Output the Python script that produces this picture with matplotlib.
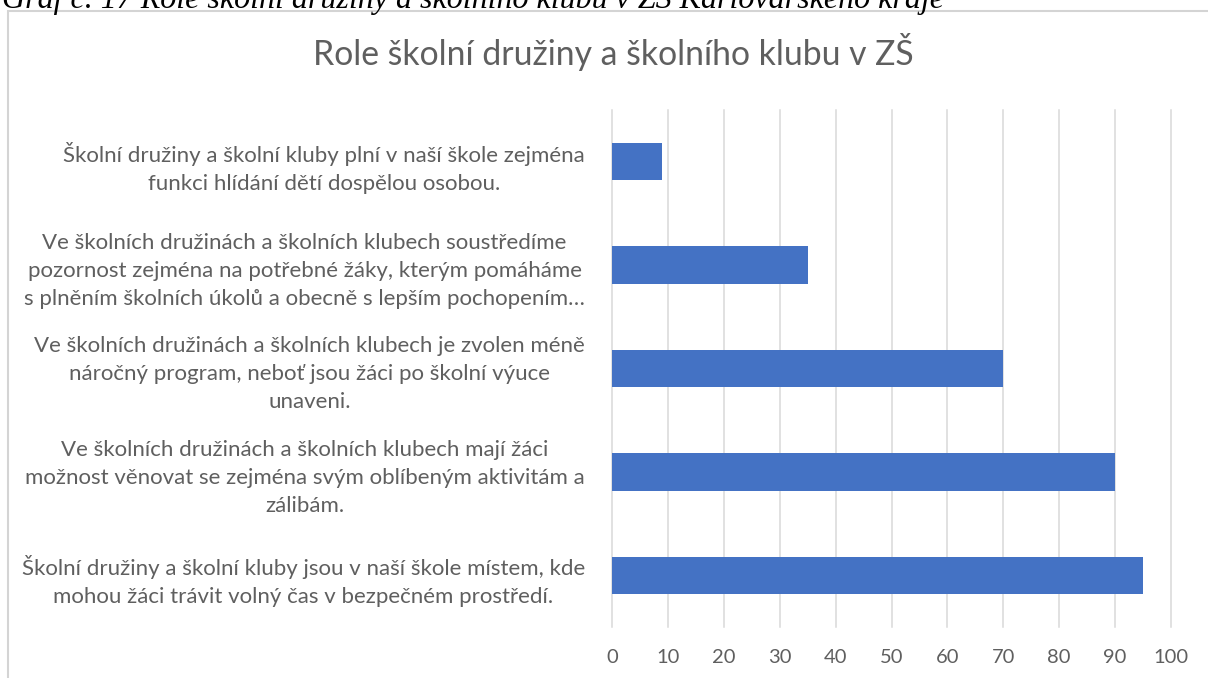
import matplotlib
matplotlib.use('Agg')
import matplotlib.pyplot as plt
from matplotlib.patches import Rectangle
from matplotlib.font_manager import FontProperties

W, H, DPI = 1208, 678, 100

categories = [
    "Školní družiny a školní kluby plní v naší škole zejména\nfunkci hlídání dětí dospělou osobou.",
    "Ve školních družinách a školních klubech soustředíme\npozornost zejména na potřebné žáky, kterým pomáháme\ns plněním školních úkolů a obecně s lepším pochopením…",
    "Ve školních družinách a školních klubech je zvolen méně\nnáročný program, neboť jsou žáci po školní výuce\nunaveni.",
    "Ve školních družinách a školních klubech mají žáci\nmožnost věnovat se zejména svým oblíbeným aktivitám a\nzálibám.",
    "Školní družiny a školní kluby jsou v naší škole místem, kde\nmohou žáci trávit volný čas v bezpečném prostředí.",
]
values = [9, 35, 70, 90, 95]
xticks = [0, 10, 20, 30, 40, 50, 60, 70, 80, 90, 100]
title = "Role školní družiny a školního klubu v ZŠ"
caption = "Graf č. 17 Role školní družiny a školního klubu v ZŠ Karlovarského kraje"

SANS = 'Lato'
SERIF = 'Liberation Serif'
TXT = '#5f5f5f'
GRID = '#d9d9d9'
BAR = '#4472c4'

fig = plt.figure(figsize=(W / DPI, H / DPI), dpi=DPI)
fig.patch.set_facecolor('white')
renderer = fig.canvas.get_renderer()


def fit_size(text, family, target_px, style='normal'):
    t = fig.text(0, 0, text, fontsize=10, family=family, style=style)
    w = t.get_window_extent(renderer).width
    t.remove()
    return 10 * target_px / w


label_fs = fit_size("Školní družiny a školní kluby jsou v naší škole místem, kde", SANS, 560)
title_fs = fit_size(title, SANS, 600)
cap_fs = fit_size(caption, SERIF, 945, style='italic')
tick_fs = fit_size("100", SANS, 35)

fp = FontProperties(family=SANS, size=label_fs)
_, lh, ld = renderer.get_text_width_height_descent("lp", fp, ismath=False)
linesp = 24.0 / (lh - ld)

# chart frame
fig.patches.append(Rectangle((8 / W, -0.1), 1.2, 1 - 11 / H + 0.1, transform=fig.transFigure,
                             fill=False, edgecolor='#d4d4d4', linewidth=1.5))

# caption (cut off at top, as in the source document)
fig.text(2 / W, 1 - 8 / H, caption, family=SERIF, style='italic', fontsize=cap_fs,
         color='black', ha='left', va='baseline')

# title
fig.text(613 / W, 1 - 65 / H, title, family=SANS, fontsize=title_fs, color=TXT,
         ha='center', va='baseline')

left, right = 612 / W, 1171 / W
top, bottom = 1 - 110 / H, 1 - 627 / H
ax = fig.add_axes([left, bottom, right - left, top - bottom])
ax.set_facecolor('none')

ypos = list(range(len(categories)))
ax.barh(ypos, values, height=0.36, color=BAR, zorder=3)
ax.set_xlim(0, 100)
ax.set_ylim(len(categories) - 0.5, -0.5)
ax.set_xticks(xticks)
ax.set_xticklabels([str(v) for v in xticks])
ax.set_yticks(ypos)
ax.set_yticklabels(categories)
for lab in ax.get_yticklabels():
    lab.set_multialignment('center')
    lab.set_linespacing(linesp)
    lab.set_fontfamily(SANS)
    lab.set_fontsize(label_fs)
    lab.set_color(TXT)
for lab in ax.get_xticklabels():
    lab.set_fontfamily(SANS)
    lab.set_fontsize(tick_fs)
    lab.set_color(TXT)
ax.tick_params(axis='y', length=0, pad=27 * 72 / DPI)
ax.tick_params(axis='x', length=0, pad=16)
ax.grid(axis='x', color=GRID, linewidth=1.1, zorder=0)
for gl in ax.get_xgridlines():
    gl.set_clip_on(False)
for s in ax.spines.values():
    s.set_visible(False)

fig.savefig('out.png', dpi=DPI, facecolor='white')
